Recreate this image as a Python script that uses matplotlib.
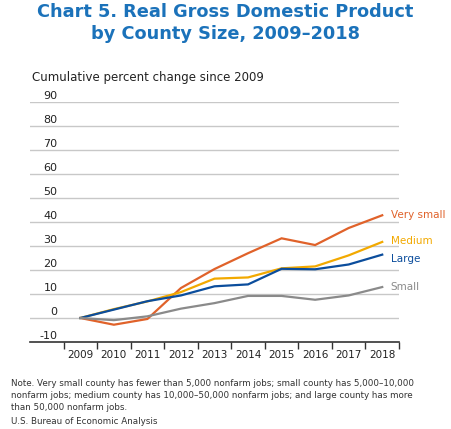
import matplotlib.pyplot as plt

years = ['2009', '2010', '2011', '2012', '2013', '2014', '2015', '2016', '2017', '2018']
very_small = [0, -2.8, -0.4, 12.5, 20.4, 27.0, 33.2, 30.4, 37.5, 42.8]
medium = [0, 3.7, 6.9, 10.8, 16.4, 16.9, 20.7, 21.5, 26.1, 31.7]
large = [0, 3.5, 7.0, 9.4, 13.2, 14.0, 20.5, 20.3, 22.3, 26.4]
small = [0, -0.9, 0.7, 3.9, 6.2, 9.2, 9.2, 7.6, 9.4, 12.9]
y_ticks = [-10, 0, 10, 20, 30, 40, 50, 60, 70, 80, 90]

series = [
    ('Very small', very_small, '#E0622A', 43),
    ('Medium', medium, '#F2A900', 32),
    ('Large', large, '#0B4D9C', 24.5),
    ('Small', small, '#8A8A8A', 13),
]

fig = plt.figure(figsize=(4.51, 4.29), dpi=100)
ax = fig.add_axes([30 / 451, 1 - 342 / 429, 369 / 451, 240 / 429])

x = list(range(len(years)))
for name, vals, color, label_y in series:
    ax.plot(x, vals, color=color, lw=1.6, solid_joinstyle='miter', zorder=3)
    ax.text(9.25, label_y, name, color=color, fontsize=7.5, va='center', ha='left')

for v in y_ticks[1:]:
    ax.axhline(v, color='#C8C8C8', lw=1, zorder=1)
for v in y_ticks:
    ax.text(-0.68, v + 0.6, str(v), ha='right', va='bottom',
            fontsize=8, color='#222222')

ax.set_xlim(-1.5, 9.5)
ax.set_ylim(-10, 90)
for s in ['top', 'right', 'left']:
    ax.spines[s].set_visible(False)
ax.spines['bottom'].set_color('#333333')
ax.spines['bottom'].set_linewidth(1.2)
ax.set_yticks([])
ax.set_xticks([i - 0.5 for i in range(len(years) + 1)])
ax.set_xticklabels([])
ax.set_xticks(x, minor=True)
ax.set_xticklabels(years, minor=True, fontsize=7.5, color='#222222')
ax.tick_params(axis='x', which='major', length=5, width=1, color='#333333')
ax.tick_params(axis='x', which='minor', length=0, pad=6)

blue = '#1B72BA'
fig.text(0.5, 1 - 12 / 429, 'Chart 5. Real Gross Domestic Product', ha='center', va='center',
         fontsize=12.8, fontweight='bold', color=blue)
fig.text(0.5, 1 - 34 / 429, 'by County Size, 2009\u20132018', ha='center', va='center',
         fontsize=12.8, fontweight='bold', color=blue)
fig.text(32 / 451, 1 - 78 / 429, 'Cumulative percent change since 2009', ha='left', va='center',
         fontsize=8.5, color='#222222')

note = ('Note. Very small county has fewer than 5,000 nonfarm jobs; small county has 5,000\u201310,000\n'
        'nonfarm jobs; medium county has 10,000\u201350,000 nonfarm jobs; and large county has more\n'
        'than 50,000 nonfarm jobs.')
fig.text(11 / 451, 1 - 379 / 429, note, ha='left', va='top', fontsize=6.3, color='#333333',
         linespacing=1.45)
fig.text(11 / 451, 1 - 422 / 429, 'U.S. Bureau of Economic Analysis', ha='left', va='center',
         fontsize=6.3, color='#333333')

fig.savefig('out.png', dpi=100)
